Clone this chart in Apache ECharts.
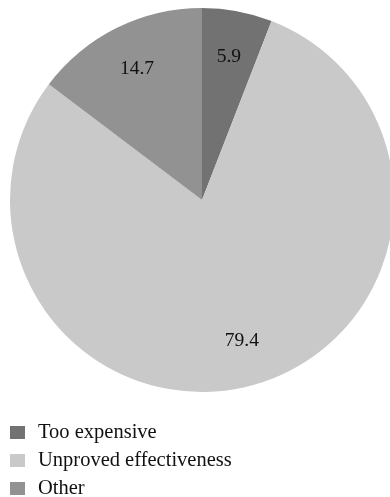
<!DOCTYPE html>
<html>
<head>
<meta charset="utf-8">
<script src="https://cdn.jsdelivr.net/npm/echarts@6/dist/echarts.min.js"></script>
<style>
html,body{margin:0;padding:0;background:#fff;}
#chart{width:390px;height:497px;}
</style>
</head>
<body>
<div id="chart"></div>
<script>
const categories = ['Too expensive', 'Unproved effectiveness', 'Other'];
const values = [5.9, 79.4, 14.7];
const colors = ['#727272', '#c9c9c9', '#929292'];

const chart = echarts.init(document.getElementById('chart'), null, {renderer: 'canvas'});
const font = 'Liberation Serif';

chart.setOption({
  animation: false,
  backgroundColor: '#fff',
  color: colors,
  legend: {
    orient: 'vertical',
    left: 10,
    top: 422,
    width: 300,
    height: 90,
    padding: 0,
    itemWidth: 15,
    itemHeight: 13,
    itemGap: 7,
    icon: 'rect',
    data: categories,
    textStyle: {fontFamily: font, fontSize: 20.5, color: '#111', lineHeight: 20, padding: [0, 0, 0, 8]}
  },
  series: [
    {
      type: 'pie',
      center: [202, 200],
      radius: [0, 192],
      startAngle: 90,
      clockwise: true,
      silent: true,
      label: {show: false},
      labelLine: {show: false},
      data: categories.map((c, i) => ({name: c, value: values[i], itemStyle: {color: colors[i]}}))
    },
    {
      type: 'pie',
      center: [202, 200],
      radius: [0, 286],
      startAngle: 90,
      clockwise: true,
      silent: true,
      itemStyle: {color: 'rgba(0,0,0,0)'},
      label: {
        show: true,
        position: 'inside',
        fontFamily: font,
        fontSize: 19.5,
        color: '#111',
        formatter: p => p.value.toFixed(1)
      },
      labelLine: {show: false},
      data: categories.map((c, i) => ({name: c, value: values[i]}))
    }
  ]
});
</script>
</body>
</html>
